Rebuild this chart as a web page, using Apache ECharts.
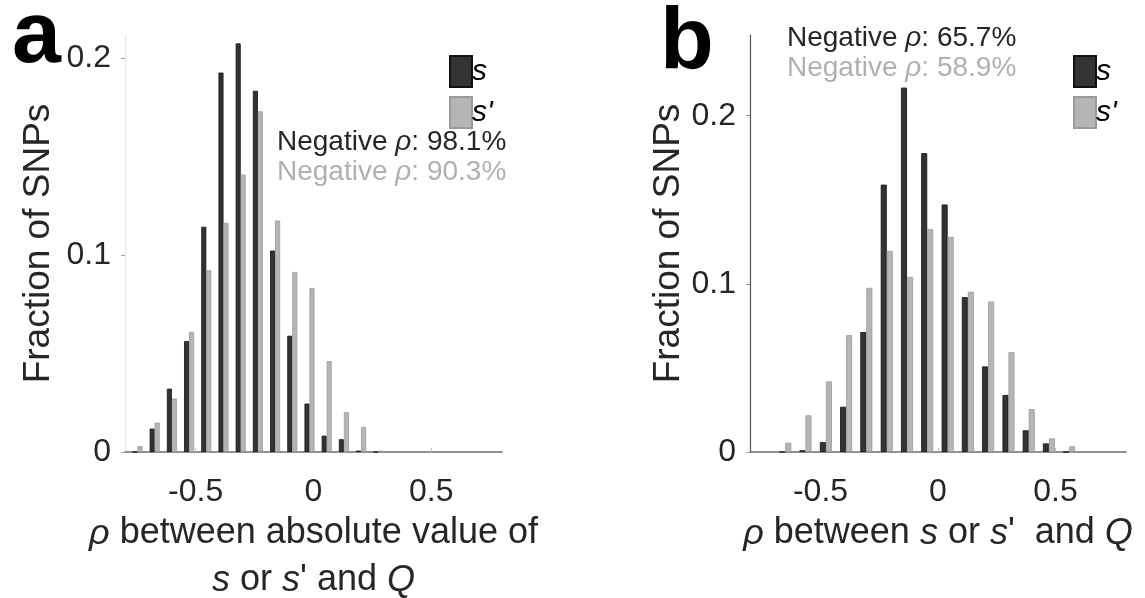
<!DOCTYPE html>
<html>
<head>
<meta charset="utf-8">
<script src="https://cdn.jsdelivr.net/npm/echarts@6/dist/echarts.min.js"></script>
<style>
    html, body { margin: 0; padding: 0; background: #fff; }
    #snpChart { width: 1145px; height: 598px; }
</style>
</head>
<body>
<div id="snpChart"></div>
<script>
    // panel a: rho between |s| or |s'| and Q
    const binsA = [-0.747, -0.674, -0.601, -0.528, -0.455, -0.382, -0.309, -0.236, -0.163, -0.090, -0.017, 0.056, 0.129, 0.202, 0.275]
    const sA = [0, 0.0119, 0.0322, 0.0564, 0.1145, 0.1929, 0.2077, 0.1836, 0.1024, 0.0591, 0.0246, 0.0083, 0.0065, 0.0007, 0]
    const sPrimeA = [0.003, 0.0149, 0.0272, 0.0611, 0.0924, 0.1165, 0.141, 0.1732, 0.1177, 0.0915, 0.0834, 0.0462, 0.0202, 0.0127, 0.0007]

    // panel b: rho between s or s' and Q
    const binsB = [-0.650, -0.564, -0.477, -0.391, -0.305, -0.218, -0.132, -0.046, 0.041, 0.127, 0.213, 0.300, 0.386, 0.472, 0.558]
    const sB = [0, 0.001, 0.0059, 0.0269, 0.0713, 0.159, 0.2167, 0.1777, 0.1472, 0.0921, 0.0509, 0.0339, 0.0129, 0.0051, 0]
    const sPrimeB = [0.0055, 0.0218, 0.042, 0.0695, 0.0976, 0.1196, 0.1042, 0.1325, 0.128, 0.0953, 0.0895, 0.0594, 0.0255, 0.0081, 0.0034]

    const xTicks = [-0.5, 0, 0.5]
    const yTicks = [0, 0.1, 0.2]
    const seriesNames = ['s', "s'"]
    const negativeA = ['98.1%', '90.3%']
    const negativeB = ['65.7%', '58.9%']

    const FONT = '"Liberation Sans", Arial, sans-serif'
    const TEXT = '#262626'
    const DARK = '#333333'
    const LIGHT = '#b5b5b5'

    const pairs = (xs, ys) => xs.map((x, i) => [x, ys[i]])

    const italicRich = {
        i: { fontStyle: 'italic', fontFamily: FONT, fontSize: 36, color: TEXT, lineHeight: 47 },
        n: { fontFamily: FONT, fontSize: 36, color: TEXT, lineHeight: 47 }
    }

    function xAxisFor (gridIndex, name) {
        return {
            type: 'value',
            gridIndex: gridIndex,
            min: -0.8,
            max: 0.8,
            name: name,
            nameLocation: 'middle',
            nameGap: 58,
            nameTextStyle: { rich: italicRich },
            axisLine: { onZero: false, lineStyle: { color: '#6e6e6e', width: 1.5 } },
            axisTick: { inside: true, length: 4, customValues: xTicks, lineStyle: { color: '#bdbdbd' } },
            axisLabel: {
                customValues: xTicks,
                margin: 24,
                fontSize: 32,
                fontFamily: FONT,
                color: TEXT,
                formatter: v => String(v)
            },
            splitLine: { show: false }
        }
    }

    function yAxisFor (gridIndex, max, lineColor, gap) {
        return {
            type: 'value',
            gridIndex: gridIndex,
            min: 0,
            max: max,
            name: 'Fraction of SNPs',
            nameLocation: 'middle',
            nameGap: gap,
            nameTextStyle: { fontSize: 37, fontFamily: FONT, color: TEXT },
            axisLine: { show: true, onZero: false, lineStyle: { color: lineColor, width: 1.2 } },
            axisTick: { show: true, length: 4, customValues: yTicks, lineStyle: { color: '#9e9e9e' } },
            axisLabel: {
                customValues: yTicks,
                margin: 14,
                fontSize: 32,
                fontFamily: FONT,
                color: TEXT,
                formatter: v => String(v)
            },
            splitLine: { show: false }
        }
    }

    function barSeries (name, idx, data, width, color, border) {
        return {
            name: name,
            type: 'bar',
            xAxisIndex: idx,
            yAxisIndex: idx,
            data: data,
            barWidth: width,
            barGap: '0%',
            itemStyle: { color: color, borderColor: border, borderWidth: 0.8 },
            emphasis: { disabled: true },
            animation: false
        }
    }

    function legendFor (left) {
        return {
            left: left,
            top: 50,
            orient: 'vertical',
            itemWidth: 22,
            itemHeight: 31,
            itemGap: 8,
            icon: 'rect',
            selectedMode: false,
            data: seriesNames,
            textStyle: { fontSize: 30, fontStyle: 'italic', fontFamily: FONT, color: '#000', padding: [0, 0, 0, -5] }
        }
    }

    function noteText (x, y, value, color) {
        return {
            type: 'text',
            x: x,
            y: y,
            style: {
                text: '{n|Negative }{i|ρ}{n|: ' + value + '}',
                verticalAlign: 'middle',
                rich: {
                    n: { fontSize: 28, fontFamily: FONT, fill: color, color: color },
                    i: { fontSize: 28, fontFamily: FONT, fontStyle: 'italic', fill: color, color: color }
                }
            }
        }
    }

    const chart = echarts.init(document.getElementById('snpChart'), null, { renderer: 'canvas' })
    const option = {
        backgroundColor: '#fff',
        animation: false,
        color: [DARK, LIGHT],
        grid: [
            { left: 125, top: 35, width: 377, height: 417, outerBoundsMode: 'none', containLabel: false },
            { left: 750, top: 35, width: 376, height: 417, outerBoundsMode: 'none', containLabel: false }
        ],
        xAxis: [
            xAxisFor(0, '{i|ρ}{n| between absolute value of}\n{i|s}{n| or }{i|s}{n|\' and }{i|Q}'),
            xAxisFor(1, '{i|ρ}{n| between }{i|s}{n| or }{i|s}{n|\'  and }{i|Q}')
        ],
        yAxis: [
            yAxisFor(0, 0.212, '#e6e6e6', 68),
            yAxisFor(1, 0.248, '#555555', 61)
        ],
        legend: [legendFor(444), legendFor(1068)],
        series: [
            barSeries(seriesNames[0], 0, pairs(binsA, sA), 5, DARK, '#111'),
            barSeries(seriesNames[1], 0, pairs(binsA, sPrimeA), 5, LIGHT, '#9a9a9a'),
            barSeries(seriesNames[0], 1, pairs(binsB, sB), 6, DARK, '#111'),
            barSeries(seriesNames[1], 1, pairs(binsB, sPrimeB), 6, LIGHT, '#9a9a9a')
        ],
        graphic: [
            { type: 'text', x: 12, y: 38, style: { text: 'a', fontSize: 88, fontWeight: 'bold', fontFamily: FONT, fill: '#000', verticalAlign: 'middle' } },
            { type: 'text', x: 660, y: 44, style: { text: 'b', fontSize: 88, fontWeight: 'bold', fontFamily: FONT, fill: '#000', verticalAlign: 'middle' } },
            noteText(277, 142, negativeA[0], TEXT),
            noteText(277, 172, negativeA[1], '#b0b0b0'),
            noteText(787, 38, negativeB[0], TEXT),
            noteText(787, 68, negativeB[1], '#b0b0b0')
        ]
    }
    chart.setOption(option)
</script>
</body>
</html>
